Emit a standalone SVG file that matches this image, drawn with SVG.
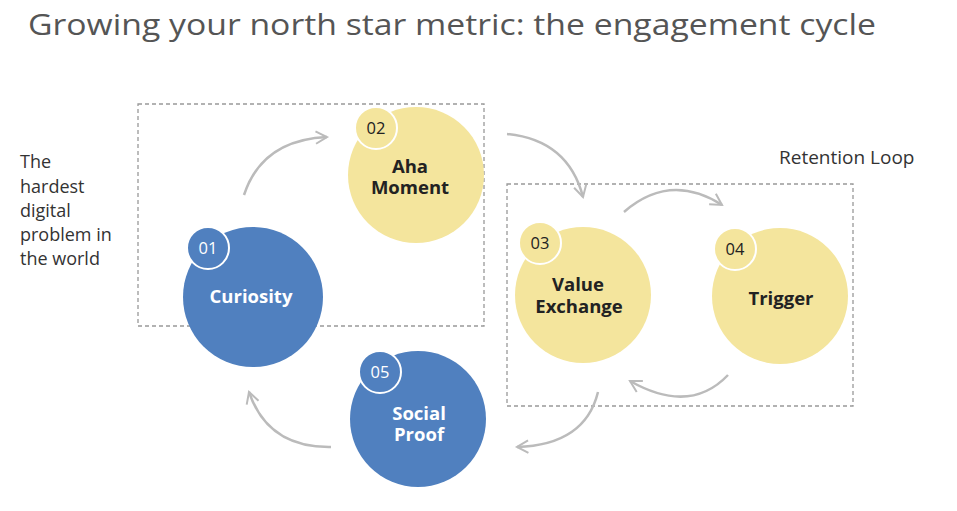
<svg xmlns="http://www.w3.org/2000/svg" width="957" height="511" viewBox="0 0 957 511">
<defs>
<style>
.title{font-family:"Open Sans",Lato,sans-serif;font-size:30px;fill:#555;}
.side{font-family:"Open Sans",Lato,sans-serif;font-size:18px;fill:#333;}
.box{fill:none;stroke:#999;stroke-width:1.3;stroke-dasharray:4,3;}
.blue{fill:#5080bf;}
.yellow{fill:#f4e59d;}
.badge{stroke:#fff;stroke-width:2;}
.num{font-family:"Open Sans",Lato,sans-serif;font-size:16.5px;text-anchor:middle;}
.lbl{font-family:"Open Sans",Lato,sans-serif;font-size:18.5px;font-weight:bold;text-anchor:middle;}
.w{fill:#fff;}
.d{fill:#222;}
.arrow{fill:none;stroke:#bbb;stroke-width:2.5;marker-end:url(#ah);}
</style>
<marker id="ah" viewBox="0 0 12 12" refX="10" refY="6" markerWidth="6" markerHeight="6" orient="auto" markerUnits="strokeWidth">
<path d="M1,1 L10,6 L1,11" fill="none" stroke="#bbb" stroke-width="1.6"/>
</marker>
</defs>
<rect width="957" height="511" fill="#fff"/>
<text class="title" x="28" y="35" textLength="848" lengthAdjust="spacingAndGlyphs">Growing your north star metric: the engagement cycle</text>
<g id="side-text">
<text class="side" x="20" y="168">The<tspan x="20" dy="25">hardest</tspan><tspan x="20" dy="24">digital</tspan><tspan x="20" dy="24">problem in</tspan><tspan x="20" dy="24">the world</tspan></text>
</g>
<g id="box-left"><rect class="box" x="138" y="104" width="346" height="222"/></g>
<g id="box-retention">
<rect class="box" x="507" y="184" width="346" height="222"/>
<text class="side" x="779" y="164" style="font-size:19px">Retention Loop</text>
</g>
<g id="connectors">
<path class="arrow" d="M244,195 Q262,140 327,137"/>
<path class="arrow" d="M507,134 Q568,140 583,197"/>
<path class="arrow" d="M624,212 Q670,172 722,205"/>
<path class="arrow" d="M728,375 Q690,415 630,381"/>
<path class="arrow" d="M598,392 Q585,445 517,447"/>
<path class="arrow" d="M331,447 Q268,448 249,392"/>
</g>
<g id="node-01">
<circle class="blue" cx="253" cy="297" r="70"/>
<circle class="blue badge" cx="208" cy="248" r="21"/>
<text class="num w" x="208" y="254">01</text>
<text class="lbl w" x="251" y="303">Curiosity</text>
</g>
<g id="node-02">
<circle class="yellow" cx="416" cy="175" r="68"/>
<circle class="yellow badge" cx="376" cy="128" r="21"/>
<text class="num d" x="376" y="134">02</text>
<text class="lbl d" x="410" y="173">Aha<tspan x="410" dy="21">Moment</tspan></text>
</g>
<g id="node-03">
<circle class="yellow" cx="583" cy="295" r="68"/>
<circle class="yellow badge" cx="540" cy="243" r="21"/>
<text class="num d" x="540" y="249">03</text>
<text class="lbl d" x="578" y="291">Value<tspan x="579" dy="22">Exchange</tspan></text>
</g>
<g id="node-04">
<circle class="yellow" cx="780" cy="296" r="68"/>
<circle class="yellow badge" cx="735" cy="249" r="21"/>
<text class="num d" x="735" y="255">04</text>
<text class="lbl d" x="781" y="305">Trigger</text>
</g>
<g id="node-05">
<circle class="blue" cx="418" cy="419" r="68"/>
<circle class="blue badge" cx="380" cy="372" r="21"/>
<text class="num w" x="380" y="378">05</text>
<text class="lbl w" x="419" y="420">Social<tspan x="419" dy="21">Proof</tspan></text>
</g>
</svg>
